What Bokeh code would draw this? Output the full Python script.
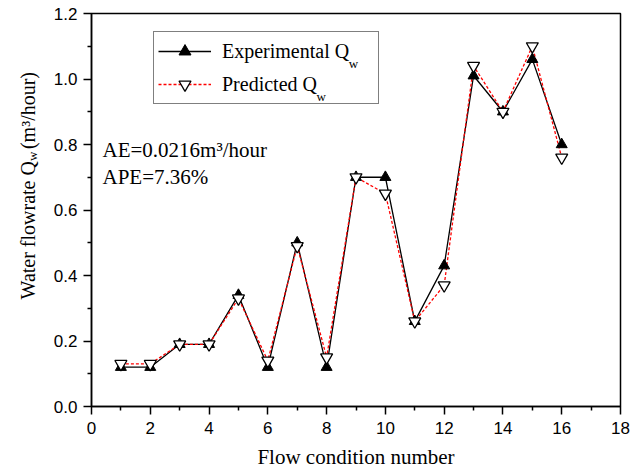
import math
from bokeh.plotting import figure
from bokeh.layouts import row
from bokeh.models import (Range1d, FixedTicker, PrintfTickFormatter,
                          Legend, LegendItem, Label)
from bokeh.embed import file_html
from bokeh.resources import INLINE

# ---------------- data ----------------
flow_condition = [1, 2, 3, 4, 5, 6, 7, 8, 9, 10, 11, 12, 13, 14, 15, 16]
experimental_qw = [0.12, 0.12, 0.19, 0.19, 0.34, 0.12, 0.50, 0.12,
                   0.70, 0.70, 0.26, 0.43, 1.01, 0.90, 1.06, 0.80]
predicted_qw = [0.13, 0.13, 0.19, 0.19, 0.33, 0.14, 0.49, 0.15,
                0.70, 0.65, 0.26, 0.37, 1.04, 0.90, 1.10, 0.76]
x_limits = (0, 18)
y_limits = (0, 1.2)
x_major_ticks = [0, 2, 4, 6, 8, 10, 12, 14, 16, 18]
x_minor_ticks = [1, 3, 5, 7, 9, 11, 13, 15, 17]
y_major_ticks = [0.0, 0.2, 0.4, 0.6, 0.8, 1.0, 1.2]
y_minor_ticks = [0.1, 0.3, 0.5, 0.7, 0.9, 1.1]
stats_lines = ["AE=0.0216m³/hour", "APE=7.36%"]

# ---------------- layout ----------------
W, H = 641, 469
SIDE = 46                      # width of the strip that holds the y title
FL, FT, FW, FH = 91, 13, 529, 393
SERIF = "Liberation Serif"
SANS = "Liberation Sans"


def dx(px):
    return x_limits[0] + (px - FL) / FW * (x_limits[1] - x_limits[0])


def dy(py):
    return y_limits[1] - (py - FT) / FH * (y_limits[1] - y_limits[0])


p = figure(frame_width=FW, frame_height=FH,
           min_border_left=FL - SIDE, min_border_top=FT,
           min_border_right=W - FL - FW, min_border_bottom=H - FT - FH,
           x_range=Range1d(*x_limits), y_range=Range1d(*y_limits),
           output_backend="svg", toolbar_location=None)
p.background_fill_color = "white"
p.border_fill_color = "white"
p.xgrid.visible = False
p.ygrid.visible = False
p.outline_line_color = "black"
p.outline_line_width = 1.5

p.xaxis.ticker = FixedTicker(ticks=x_major_ticks, minor_ticks=x_minor_ticks)
p.yaxis.ticker = FixedTicker(ticks=y_major_ticks, minor_ticks=y_minor_ticks)
p.xaxis.formatter = PrintfTickFormatter(format="%d")
p.yaxis.formatter = PrintfTickFormatter(format="%.1f")
for ax in (p.xaxis, p.yaxis):
    ax.axis_line_color = "black"
    ax.axis_line_width = 1.5
    ax.major_tick_line_color = "black"
    ax.major_tick_line_width = 1.5
    ax.minor_tick_line_color = "black"
    ax.minor_tick_line_width = 1.5
    ax.major_tick_in = 0
    ax.major_tick_out = 8
    ax.minor_tick_in = 0
    ax.minor_tick_out = 4
    ax.major_label_text_font = SANS
    ax.major_label_text_font_size = "17px"
    ax.major_label_text_color = "black"
p.xaxis.major_label_standoff = 7
p.yaxis.major_label_standoff = 6

p.xaxis.axis_label = "Flow condition number"
p.xaxis.axis_label_text_font = SERIF
p.xaxis.axis_label_text_font_size = "21px"
p.xaxis.axis_label_text_font_style = "normal"
p.xaxis.axis_label_text_color = "black"
p.xaxis.axis_label_standoff = 8

# ---------------- series ----------------
le = p.line(flow_condition, experimental_qw, line_color="black", line_width=1.3)
lp = p.line(flow_condition, predicted_qw, line_color="red", line_width=1.3,
            line_dash="3 2")
se = p.scatter(flow_condition, experimental_qw, marker="triangle", size=11,
               fill_color="black", line_color="black", line_width=1.0)
sp = p.scatter(flow_condition, predicted_qw, marker="inverted_triangle", size=12,
               fill_color="white", line_color="black", line_width=1.3)

# ---------------- legend ----------------
leg_left, leg_top = 153, 33
pad, gw, gh, stand = 4, 53, 30, 11
leg_h = 2 * pad + 2 * gh + 3
legend = Legend(items=[LegendItem(label="Experimental Q", renderers=[le, se]),
                       LegendItem(label="Predicted Q", renderers=[lp, sp])],
                location=(leg_left - FL, FT + FH - (leg_top + leg_h)),
                padding=pad, spacing=3, margin=0,
                glyph_width=gw, glyph_height=gh, label_height=gh,
                label_width=152, label_standoff=stand,
                border_line_color="black", border_line_width=1.5,
                background_fill_color="white", background_fill_alpha=0.0,
                label_text_font=SERIF, label_text_font_size="20px",
                label_text_color="black")
p.add_layout(legend)

text_x0 = leg_left + pad + gw + stand
row_centers = [leg_top + pad + gh / 2, leg_top + pad + gh * 1.5 + 3]
main_widths = [6.36 * 20, 4.749 * 20]
for rc, wdt in zip(row_centers, main_widths):
    p.add_layout(Label(x=dx(text_x0 + wdt), y=dy(rc + 11), text="w",
                       text_font=SERIF, text_font_size="13px",
                       text_align="left", text_baseline="alphabetic",
                       text_color="black", level="overlay"))

# ---------------- annotations ----------------
for i, s_text in enumerate(stats_lines):
    p.add_layout(Label(x=dx(102), y=dy(149.3 + 27.4 * i), text=s_text,
                       text_font=SERIF, text_font_size="21px",
                       text_align="left", text_baseline="alphabetic",
                       text_color="black", level="overlay"))

# ---------------- y title strip (rotated, with subscript) ----------------
s = figure(width=SIDE, height=H, x_range=Range1d(0, SIDE), y_range=Range1d(0, H),
           min_border=0, x_axis_type=None, y_axis_type=None,
           output_backend="svg", toolbar_location=None)
s.outline_line_color = None
s.xgrid.visible = False
s.ygrid.visible = False
s.background_fill_color = "white"
s.border_fill_color = "white"

yl_base_x = 27
joint = 177                    # screen y where "Q" ends and "w" starts
part1 = "Water flowrate Q"
part3 = "(m³/hour)"
ww = 0.722 * 13
s.add_layout(Label(x=yl_base_x, y=H - joint, text=part1, angle=math.pi / 2,
                   text_font=SERIF, text_font_size="20px", text_align="right",
                   text_baseline="alphabetic", text_color="black"))
s.add_layout(Label(x=yl_base_x + 5, y=H - joint, text="w", angle=math.pi / 2,
                   text_font=SERIF, text_font_size="13px", text_align="left",
                   text_baseline="alphabetic", text_color="black"))
s.add_layout(Label(x=yl_base_x, y=H - (joint - ww - 5), text=part3, angle=math.pi / 2,
                   text_font=SERIF, text_font_size="20px", text_align="left",
                   text_baseline="alphabetic", text_color="black"))

layout = row(s, p, spacing=0)
open("out.html", "w").write(file_html(layout, INLINE))
